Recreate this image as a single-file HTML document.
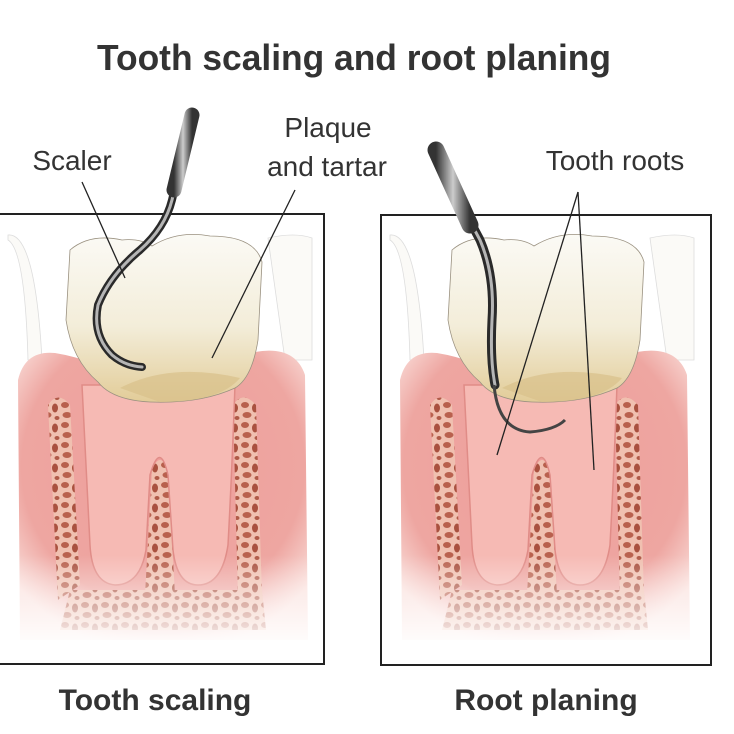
<!DOCTYPE html>
<html><head><style>
body{margin:0;background:#fff;}
svg{display:block;}
text{font-family:"Liberation Sans",sans-serif;fill:#333;}
</style></head><body>
<svg width="734" height="734" viewBox="0 0 734 734" xmlns="http://www.w3.org/2000/svg">
<defs>
<radialGradient id="gum" cx="50%" cy="40%" r="65%">
<stop offset="0" stop-color="#ef9e9b"/><stop offset="0.75" stop-color="#eea6a1"/><stop offset="1" stop-color="#fae0dc"/>
</radialGradient>
<linearGradient id="fade" x1="0" y1="0" x2="0" y2="1">
<stop offset="0" stop-color="#fff" stop-opacity="0"/><stop offset="1" stop-color="#fff" stop-opacity="0.95"/>
</linearGradient>
<linearGradient id="crown" x1="0" y1="0" x2="0" y2="1">
<stop offset="0" stop-color="#fbfaf5"/><stop offset="0.55" stop-color="#f3edd9"/><stop offset="1" stop-color="#e2cc98"/>
</linearGradient>
<linearGradient id="steel" x1="0" y1="0" x2="1" y2="0">
<stop offset="0" stop-color="#333"/><stop offset="0.5" stop-color="#ccc"/><stop offset="1" stop-color="#333"/>
</linearGradient>
<pattern id="bone" width="20" height="20" patternUnits="userSpaceOnUse">
<rect width="20" height="20" fill="#f0c0b0"/>
<ellipse cx="5" cy="5" rx="4" ry="3" fill="#b8604d"/>
<ellipse cx="15" cy="8" rx="3" ry="4.5" fill="#a9513f"/>
<ellipse cx="7" cy="15" rx="4.5" ry="3" fill="#b9614e"/>
<ellipse cx="17" cy="18" rx="2.5" ry="2" fill="#b05a48"/>
</pattern>
<g id="panel">
<path d="M8 235 Q35 232 42 360 L28 360 Q25 250 8 240Z" fill="#fbfaf7" stroke="#ddd" stroke-width="0.8"/>
<path d="M268 238 Q295 232 312 238 L312 360 L285 360Z" fill="#fbfaf7" stroke="#ddd" stroke-width="0.8"/>
<path d="M18 380 Q25 350 55 353 Q110 362 150 400 Q210 372 255 352 Q295 345 305 375 L308 640 L20 640Z" fill="url(#gum)"/>
<path d="M48 405 Q58 390 70 405 L80 585 L58 600 Z" fill="url(#bone)"/>
<path d="M152 470 Q160 450 168 470 L175 595 L145 595Z" fill="url(#bone)"/>
<path d="M233 405 Q243 390 256 405 L262 595 L238 598Z" fill="url(#bone)"/>
<path d="M70 590 L262 590 L266 630 L60 630Z" fill="url(#bone)"/>
<path d="M82 385 L235 385 Q232 470 228 545 Q222 585 198 585 Q177 585 173 550 L168 475 Q160 440 150 475 L146 550 Q140 585 115 585 Q92 583 90 545 Q86 470 82 385Z" fill="#f6bab4" stroke="#e08c87" stroke-width="1.5"/>
<rect x="15" y="555" width="300" height="90" fill="url(#fade)"/>
<path d="M70 250 Q90 233 122 240 Q140 238 152 246 Q178 230 210 236 Q255 236 262 262 L258 340 Q252 378 235 388 Q200 404 150 402 Q112 400 98 382 Q72 360 66 320Z" fill="url(#crown)" stroke="#9a9180" stroke-width="0.8"/>
<path d="M120 388 Q170 362 240 378 Q220 402 160 402Z" fill="#d9c08a" opacity="0.7"/>
</g>
</defs>

<text x="354" y="70" text-anchor="middle" font-size="36" font-weight="bold" textLength="514" lengthAdjust="spacingAndGlyphs">Tooth scaling and root planing</text>

<use href="#panel"/>
<g transform="translate(382,0)"><use href="#panel"/></g>

<rect x="-2" y="214" width="326" height="450" fill="none" stroke="#222" stroke-width="2"/>
<rect x="381" y="215" width="330" height="450" fill="none" stroke="#222" stroke-width="2"/>

<!-- scaler left -->
<path d="M190 125 L172 200 Q165 228 140 250 Q110 275 98 305 Q92 335 112 355 Q125 366 142 367" fill="none" stroke="#2a2a2a" stroke-width="8" stroke-linecap="round"/>
<path d="M190 125 L172 200 Q165 228 140 250 Q110 275 98 305 Q92 335 112 355 Q125 366 142 367" fill="none" stroke="#b5b5b5" stroke-width="3" stroke-linecap="round"/>
<path d="M192 115 L174 190" stroke="url(#steel)" stroke-width="15" stroke-linecap="round"/>
<!-- scaler right -->
<path d="M440 165 L480 240 Q495 275 492 320 Q490 360 495 385" fill="none" stroke="#2a2a2a" stroke-width="9" stroke-linecap="round"/>
<path d="M440 165 L480 240 Q495 275 492 320 Q490 360 495 385" fill="none" stroke="#b5b5b5" stroke-width="3" stroke-linecap="round"/>
<path d="M436 150 L470 225" stroke="url(#steel)" stroke-width="17" stroke-linecap="round"/>
<path d="M494 385 Q498 430 530 432 Q555 430 565 420" fill="none" stroke="#444" stroke-width="3"/>

<text x="72" y="170" text-anchor="middle" font-size="28">Scaler</text>
<line x1="82" y1="182" x2="125" y2="278" stroke="#222" stroke-width="1.3"/>
<text x="328" y="137" text-anchor="middle" font-size="28">Plaque</text>
<text x="327" y="176" text-anchor="middle" font-size="28">and tartar</text>
<line x1="295" y1="190" x2="212" y2="358" stroke="#222" stroke-width="1.3"/>
<text x="615" y="170" text-anchor="middle" font-size="28">Tooth roots</text>
<line x1="578" y1="192" x2="497" y2="455" stroke="#222" stroke-width="1.3"/>
<line x1="578" y1="192" x2="594" y2="470" stroke="#222" stroke-width="1.3"/>

<text x="155" y="710" text-anchor="middle" font-size="30" font-weight="bold">Tooth scaling</text>
<text x="546" y="710" text-anchor="middle" font-size="30" font-weight="bold">Root planing</text>
</svg>
</body></html>
